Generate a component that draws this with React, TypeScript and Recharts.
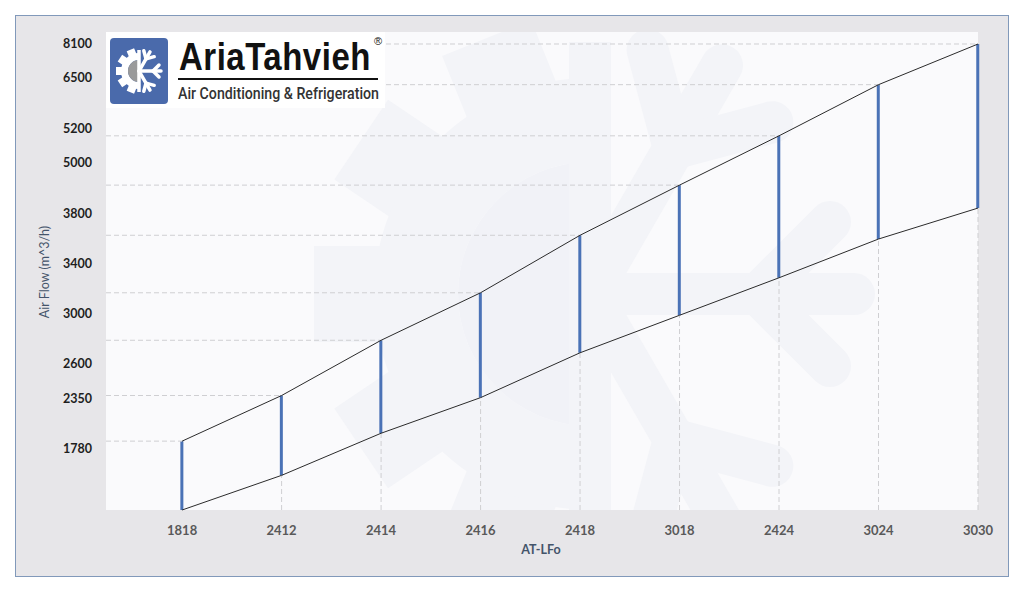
import { ComposedChart, Bar, Line, XAxis, YAxis, ReferenceLine } from 'recharts';

// models on the x axis, in the order they are drawn
const models = ['1818', '2412', '2414', '2416', '2418', '3018', '2424', '3024', '3030'];
// air flow range of each model (m^3/h)
const lowFlow = [1085, 1480, 1960, 2360, 2690, 2990, 3290, 3600, 3940];
const highFlow = [1870, 2375, 2790, 3170, 3630, 4480, 5160, 6330, 8100];
// labels of the y axis
const flowTicks = [1780, 2350, 2600, 3000, 3400, 3800, 5000, 5200, 6500, 8100];

// the y axis is not linear: each label sits at its own step (grid units from the bottom)
const tickSteps = [1.22, 2.22, 2.92, 3.92, 4.92, 5.92, 6.94, 7.62, 8.64, 9.32];
const flowDomain = [1085, 8665];
const modelDomain = [-0.765, models.length - 1];

const rows = models.map((m, i) => ({ i, model: m, low: lowFlow[i], high: highFlow[i] }));

function toStep(v: number) {
  const n = flowTicks.length;
  let k = 0;
  if (v >= flowTicks[n - 2]) k = n - 2;
  else while (k < n - 2 && v > flowTicks[k + 1]) k++;
  const t = (v - flowTicks[k]) / (flowTicks[k + 1] - flowTicks[k]);
  return tickSteps[k] + t * (tickSteps[k + 1] - tickSteps[k]);
}

// small d3-like piecewise scale so Recharts can use it as the y axis scale
function makeFlowScale(): any {
  let dom = flowDomain.slice();
  let rng = [0, 1];
  const scale: any = (v: number) => {
    const a = toStep(dom[0]);
    const b = toStep(dom[1]);
    return rng[0] + ((toStep(Number(v)) - a) / (b - a)) * (rng[1] - rng[0]);
  };
  scale.domain = (d?: number[]) => {
    if (d === undefined) return dom.slice();
    dom = d.map(Number);
    return scale;
  };
  scale.range = (r?: number[]) => {
    if (r === undefined) return rng.slice();
    rng = r.map(Number);
    return scale;
  };
  scale.copy = () => makeFlowScale().domain(dom).range(rng);
  scale.ticks = () => flowTicks.slice();
  return scale;
}

const tickFont = { fontSize: 12.5, fontWeight: 700, fontFamily: 'Lato, sans-serif' };

// gear + snowflake mark, used for the logo and (very faint) for the backdrop
function Emblem({ cx, cy, s, ring, core, flake }: any) {
  const teeth = [112, 146, 180, 214, 248];
  const arms = [-60, 0, 60];
  const R = 18 * s, r = 11 * s;
  return (
    <g>
      {teeth.map((a) => (
        <rect key={a} x={cx + 15 * s} y={cy - 4 * s} width={8 * s} height={8 * s} fill={ring} transform={`rotate(${a} ${cx} ${cy})`} />
      ))}
      <path d={`M${cx},${cy - R} A${R},${R} 0 0 0 ${cx},${cy + R} L${cx},${cy + r} A${r},${r} 0 0 1 ${cx},${cy - r} Z`} fill={ring} />
      <path d={`M${cx},${cy - r} A${r},${r} 0 0 0 ${cx},${cy + r} Z`} fill={core} />
      <line x1={cx} y1={cy - 21 * s} x2={cx} y2={cy + 21 * s} stroke={flake} strokeWidth={3.5 * s} />
      {arms.map((a) => (
        <g key={a} transform={`rotate(${a} ${cx} ${cy})`} stroke={flake} strokeWidth={3.5 * s} strokeLinecap="round">
          <line x1={cx} y1={cy} x2={cx + 22 * s} y2={cy} />
          <line x1={cx + 14 * s} y1={cy} x2={cx + 20 * s} y2={cy - 6 * s} />
          <line x1={cx + 14 * s} y1={cy} x2={cx + 20 * s} y2={cy + 6 * s} />
        </g>
      ))}
    </g>
  );
}

function Logo() {
  return (
    <svg width={320} height={80} style={{ position: 'absolute', left: 106, top: 32 }}>
      <rect x={0} y={0} width={279} height={76} fill="#fff" />
      <rect x={4} y={6} width={58} height={66} rx={4} fill="#4a6aab" />
      <Emblem cx={33} cy={39} s={1} ring="#fff" core="#9a9a9a" flake="#fff" />
      <text x={0} y={0} transform="translate(73 38) scale(1 1.18)" fontFamily="'Liberation Sans', Arial, sans-serif"
        fontWeight={700} fontSize={33} letterSpacing={0.5} fill="#111">AriaTahvieh</text>
      <text x={268} y={13} fontFamily="'Liberation Sans', Arial, sans-serif" fontSize={11} fill="#111">®</text>
      <rect x={72} y={46} width={200} height={2} fill="#111" />
      <text x={72} y={67} fontFamily="Roboto, sans-serif" fontWeight={500} fontSize={16}
        textLength={201} lengthAdjust="spacingAndGlyphs" fill="#333">Air Conditioning &amp; Refrigeration</text>
    </svg>
  );
}

export default function App() {
  return (
    <div style={{ position: 'absolute', left: 0, top: 0, width: 1024, height: 592, background: '#fff' }}>
      <div style={{ position: 'absolute', left: 15, top: 15, width: 994, height: 562, boxSizing: 'border-box', border: '1px solid #8199ba', background: '#e7e6e9' }} />
      <svg width={872} height={478} style={{ position: 'absolute', left: 106, top: 32, background: '#fafafc' }}>
        <Emblem cx={484} cy={262} s={12} ring="#f3f4f8" core="#f1f2f7" flake="#f3f4f8" />
      </svg>
      <div style={{ position: 'absolute', left: 0, top: 0 }}>
        <ComposedChart width={1024} height={592} data={rows} margin={{ top: 32, right: 46, bottom: 52, left: 46 }}>
          <XAxis
            dataKey="i"
            type="number"
            domain={modelDomain}
            ticks={models.map((_, i) => i)}
            tickFormatter={(v: number) => models[v] ?? ''}
            interval={0}
            axisLine={false}
            tickLine={false}
            tickMargin={10}
            tick={{ ...tickFont, fontSize: 13, fill: '#595959' }}
            height={30}
          />
          <YAxis
            type="number"
            scale={makeFlowScale()}
            domain={flowDomain}
            ticks={flowTicks}
            interval={0}
            axisLine={false}
            tickLine={false}
            tickMargin={8}
            tick={{ ...tickFont, fill: '#1e1e1e' }}
            width={60}
          />
          {rows.map((r) => (
            <ReferenceLine
              key={'h' + r.i}
              segment={[{ x: modelDomain[0], y: r.high }, { x: r.i, y: r.high }]}
              stroke="#cfcfd2"
              strokeDasharray="5 3"
              ifOverflow="visible"
            />
          ))}
          {rows.map((r) => (
            <ReferenceLine
              key={'v' + r.i}
              segment={[{ x: r.i, y: flowDomain[0] }, { x: r.i, y: r.low }]}
              stroke="#cfcfd2"
              strokeDasharray="5 3"
              ifOverflow="visible"
            />
          ))}
          <Bar dataKey={(d: any) => [d.low, d.high]} barSize={3} fill="#4a72b6" isAnimationActive={false} />
          <Line dataKey="high" stroke="#2b2b2b" strokeWidth={1} dot={false} isAnimationActive={false} />
          <Line dataKey="low" stroke="#2b2b2b" strokeWidth={1} dot={false} isAnimationActive={false} />
        </ComposedChart>
      </div>
      <svg width={1024} height={592} style={{ position: 'absolute', left: 0, top: 0, pointerEvents: 'none' }}>
        <text x={44} y={272} transform="rotate(-90 44 272)" textAnchor="middle" dominantBaseline="central"
          fontFamily="Lato, sans-serif" fontSize={12.5} fill="#44546a">Air Flow (m^3/h)</text>
        <text x={541} y={549} textAnchor="middle" dominantBaseline="central"
          fontFamily="Lato, sans-serif" fontWeight={700} fontSize={12.5} fill="#44546a">AT-LFo</text>
      </svg>
      <Logo />
    </div>
  );
}
